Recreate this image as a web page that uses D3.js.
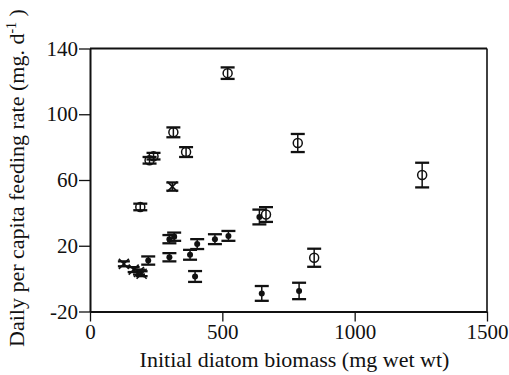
<!DOCTYPE html>
<html>
<head>
<meta charset="utf-8">
<script src="https://cdn.jsdelivr.net/npm/d3@7"></script>
<style>
  body { margin: 0; background: #fff; }
  svg { display: block; }
</style>
</head>
<body>
<div id="chart"></div>
<script>
// open circles: biomass, feeding rate, error
const openX = [190, 225, 240, 315, 363, 520, 665, 785, 847, 1255];
const openY = [43.6, 72, 74.5, 89, 77, 125, 39, 82.5, 12.7, 63];
const openE = [2, 2, 2, 3, 3, 3.5, 4.5, 5.5, 5.5, 7.5];

// filled dots
const fillX = [220, 300, 318, 300, 378, 405, 397, 472, 523, 640, 649, 790];
const fillY = [11, 24, 25.5, 13, 14.5, 21, 1.3, 24, 26, 37.5, -9, -7.5];
const fillE = [2.5, 2.5, 2.5, 2.5, 3, 3, 3.3, 3, 3, 4.5, 4.5, 5];

// crosses
const crossX = [128, 165, 185, 195, 311];
const crossY = [9, 5.5, 4, 3, 56];
const crossE = [1.5, 1.5, 1.5, 1.5, 2.5];

const xTicks = [0, 500, 1000, 1500];
const yTicks = [-20, 20, 60, 100, 140];

const W = 509, H = 375;
const font = "'Liberation Serif', 'Times New Roman', serif";
const fs = "21px";

const svg = d3.select("#chart").append("svg")
    .attr("width", W)
    .attr("height", H);

const x = d3.scaleLinear().domain([0, 1500]).range([90, 487]);
const y = d3.scaleLinear().domain([-20, 140]).range([311.5, 48.5]);

// frame top + right
svg.append("line")
    .attr("x1", x(0)).attr("x2", x(1500))
    .attr("y1", y(140)).attr("y2", y(140))
    .attr("stroke", "#111").attr("stroke-width", 1.8);
svg.append("line")
    .attr("x1", x(1500)).attr("x2", x(1500))
    .attr("y1", y(140)).attr("y2", y(-20))
    .attr("stroke", "#111").attr("stroke-width", 1.6);

const fmt = d => String(d);

const xAxis = svg.append("g")
    .attr("transform", `translate(0,${y(-20)})`)
    .call(d3.axisBottom(x).tickValues(xTicks).tickFormat(fmt).tickSize(10).tickPadding(3).tickSizeOuter(0));

const yAxis = svg.append("g")
    .attr("transform", `translate(${x(0)},0)`)
    .call(d3.axisLeft(y).tickValues(yTicks).tickFormat(fmt).tickSize(11).tickPadding(1).tickSizeOuter(0));

[xAxis, yAxis].forEach(ax => {
    ax.select(".domain").attr("stroke", "#111").attr("stroke-width", 2);
    ax.selectAll(".tick line").attr("stroke", "#111").attr("stroke-width", 1.3);
    ax.selectAll(".tick text")
        .attr("fill", "#111")
        .style("font-family", font)
        .style("font-size", fs);
});

// axis titles
svg.append("text")
    .attr("x", (x(0) + x(1500)) / 2 + 6)
    .attr("y", 367)
    .attr("text-anchor", "middle")
    .style("font-family", font)
    .style("font-size", "22px")
    .attr("fill", "#111")
    .text("Initial diatom biomass (mg wet wt)");

const yl = svg.append("text")
    .attr("transform", `translate(24,${(y(-20) + y(140)) / 2 - 2}) rotate(-90)`)
    .attr("text-anchor", "middle")
    .style("font-family", font)
    .style("font-size", "22px")
    .attr("fill", "#111");
yl.append("tspan").text("Daily per capita feeding rate (mg. d");
yl.append("tspan").attr("dy", -8).style("font-size", "14px").text("-1");
yl.append("tspan").attr("dy", 8).text(" )");

// error bars
function errorBars(xs, ys, es, cap) {
    const g = svg.append("g").attr("stroke", "#111").attr("stroke-width", 2.3);
    xs.forEach((v, i) => {
        const cx = x(v), top = y(ys[i] + es[i]), bot = y(ys[i] - es[i]);
        g.append("line").attr("x1", cx).attr("x2", cx).attr("y1", top).attr("y2", bot).attr("stroke-width", 1.5);
        g.append("line").attr("x1", cx - cap).attr("x2", cx + cap).attr("y1", top).attr("y2", top);
        g.append("line").attr("x1", cx - cap).attr("x2", cx + cap).attr("y1", bot).attr("y2", bot);
    });
}

errorBars(openX, openY, openE, 7);
errorBars(fillX, fillY, fillE, 7);
errorBars(crossX, crossY, crossE, 6);

// open circles
svg.append("g").selectAll("circle")
    .data(openX)
    .join("circle")
    .attr("cx", d => x(d))
    .attr("cy", (d, i) => y(openY[i]))
    .attr("r", 4.5)
    .attr("fill", "none")
    .attr("stroke", "#111")
    .attr("stroke-width", 1.5);

// filled dots
svg.append("g").selectAll("circle")
    .data(fillX)
    .join("circle")
    .attr("cx", d => x(d))
    .attr("cy", (d, i) => y(fillY[i]))
    .attr("r", 3)
    .attr("fill", "#111");

// crosses
const cg = svg.append("g").attr("stroke", "#111").attr("stroke-width", 1.6);
crossX.forEach((v, i) => {
    const cx = x(v), cy = y(crossY[i]), s = 5;
    cg.append("line").attr("x1", cx - s).attr("x2", cx + s).attr("y1", cy - s).attr("y2", cy + s);
    cg.append("line").attr("x1", cx - s).attr("x2", cx + s).attr("y1", cy + s).attr("y2", cy - s);
});
</script>
</body>
</html>
